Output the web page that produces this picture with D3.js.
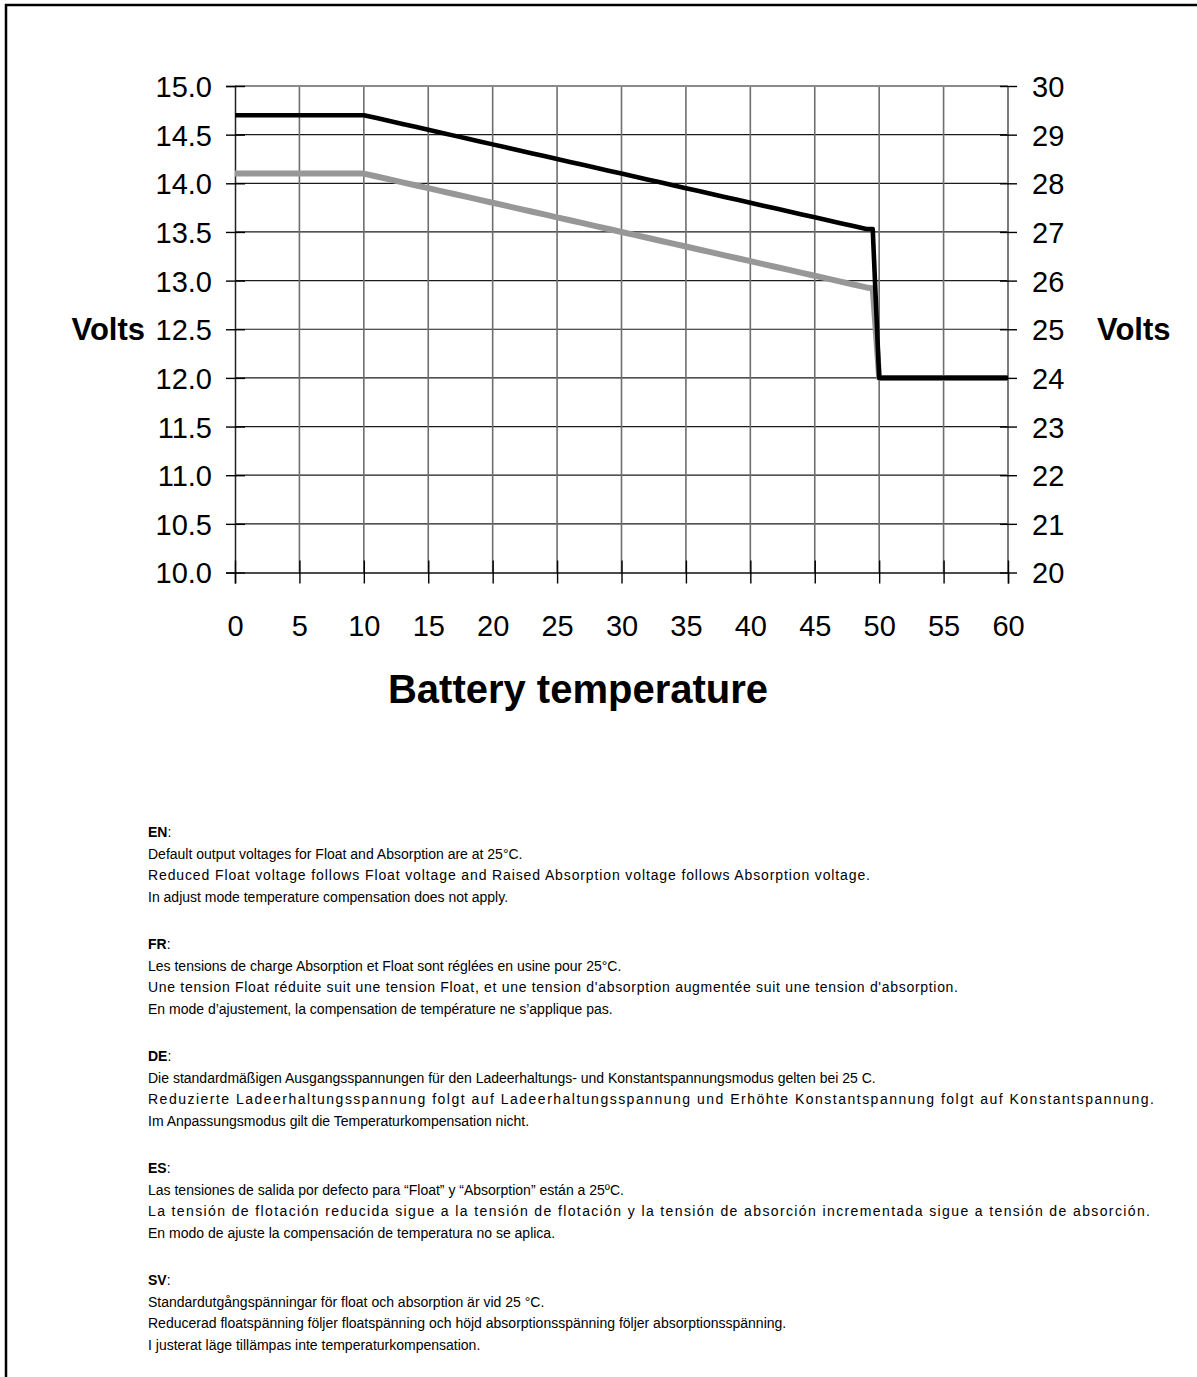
<!DOCTYPE html>
<html>
<head>
<meta charset="utf-8">
<script src="https://cdn.jsdelivr.net/npm/d3@7"></script>
<style>
  html, body { margin: 0; padding: 0; background: #fff; }
  svg { display: block; }
</style>
</head>
<body>
<svg id="chart" width="1197" height="1377"></svg>
<script>
// Battery temperature (°C) at which each voltage point is defined
const temperature = [0, 10, 11, 12, 13, 14, 15, 16, 17, 18, 19, 20, 21, 22, 23, 24, 25,
  26, 27, 28, 29, 30, 31, 32, 33, 34, 35, 36, 37, 38, 39, 40, 41, 42, 43, 44, 45,
  46, 47, 48, 49, 49.5, 50, 60];

// Absorption voltage (12 V system), black curve
const absorptionVolts = [14.70, 14.70, 14.67, 14.64, 14.61, 14.58, 14.55, 14.52, 14.49, 14.46,
  14.43, 14.40, 14.37, 14.34, 14.31, 14.28, 14.25, 14.22, 14.19, 14.16, 14.13, 14.10,
  14.07, 14.04, 14.01, 13.98, 13.95, 13.92, 13.89, 13.86, 13.83, 13.80, 13.77, 13.74,
  13.71, 13.68, 13.65, 13.62, 13.59, 13.56, 13.53, 13.53, 12.00, 12.00];

// Float voltage (12 V system), grey curve
const floatVolts = [14.10, 14.10, 14.07, 14.04, 14.01, 13.98, 13.95, 13.92, 13.89, 13.86,
  13.83, 13.80, 13.77, 13.74, 13.71, 13.68, 13.65, 13.62, 13.59, 13.56, 13.53, 13.50,
  13.47, 13.44, 13.41, 13.38, 13.35, 13.32, 13.29, 13.26, 13.23, 13.20, 13.17, 13.14,
  13.11, 13.08, 13.05, 13.02, 12.99, 12.96, 12.93, 12.92, 12.00, 12.00];

const xTicks = [0, 5, 10, 15, 20, 25, 30, 35, 40, 45, 50, 55, 60];
const leftTicks = [10.0, 10.5, 11.0, 11.5, 12.0, 12.5, 13.0, 13.5, 14.0, 14.5, 15.0];
const rightTicks = [20, 21, 22, 23, 24, 25, 26, 27, 28, 29, 30];

// Notes under the chart; "fit" is the set width of a line laid out wider than its natural size
const notes = [
  { lang: "EN", lines: [
    { s: "Default output voltages for Float and Absorption are at 25°C." },
    { s: "Reduced Float voltage follows Float voltage and Raised Absorption voltage follows Absorption voltage.", fit: 722 },
    { s: "In adjust mode temperature compensation does not apply." }] },
  { lang: "FR", lines: [
    { s: "Les tensions de charge Absorption et Float sont réglées en usine pour 25°C." },
    { s: "Une tension Float réduite suit une tension Float, et une tension d'absorption augmentée suit une tension d'absorption.", fit: 810 },
    { s: "En mode d’ajustement, la compensation de température ne s’applique pas." }] },
  { lang: "DE", lines: [
    { s: "Die standardmäßigen Ausgangsspannungen für den Ladeerhaltungs- und Konstantspannungsmodus gelten bei 25 C." },
    { s: "Reduzierte Ladeerhaltungsspannung folgt auf Ladeerhaltungsspannung und Erhöhte Konstantspannung folgt auf Konstantspannung.", fit: 1006 },
    { s: "Im Anpassungsmodus gilt die Temperaturkompensation nicht." }] },
  { lang: "ES", lines: [
    { s: "Las tensiones de salida por defecto para “Float” y “Absorption” están a 25ºC." },
    { s: "La tensión de flotación reducida sigue a la tensión de flotación y la tensión de absorción incrementada sigue a tensión de absorción.", fit: 1002 },
    { s: "En modo de ajuste la compensación de temperatura no se aplica." }] },
  { lang: "SV", lines: [
    { s: "Standardutgångspänningar för float och absorption är vid 25 °C." },
    { s: "Reducerad floatspänning följer floatspänning och höjd absorptionsspänning följer absorptionsspänning." },
    { s: "I justerat läge tillämpas inte temperaturkompensation." }] }
];

const svg = d3.select("#chart");
const FONT = "Liberation Sans, Arial, Helvetica, sans-serif";

// Page frame: top and left rule
svg.append("line").attr("x1", 5).attr("x2", 1197).attr("y1", 5).attr("y2", 5)
  .attr("stroke", "#000").attr("stroke-width", 2.5);
svg.append("line").attr("x1", 6).attr("x2", 6).attr("y1", 4).attr("y2", 1377)
  .attr("stroke", "#000").attr("stroke-width", 2.5);

const plot = { left: 235, right: 1008, top: 86, bottom: 572.5 };

const x = d3.scaleLinear().domain([0, 60]).range([plot.left, plot.right]);
const yL = d3.scaleLinear().domain([10, 15]).range([plot.bottom, plot.top]);
const yR = d3.scaleLinear().domain([20, 30]).range([plot.bottom, plot.top]);

// Horizontal grid (every 0.5 V)
svg.append("g").selectAll("line").data(leftTicks.slice(1, -1)).join("line")
  .attr("x1", plot.left).attr("x2", plot.right)
  .attr("y1", d => yL(d)).attr("y2", d => yL(d))
  .attr("stroke", "#1a1a1a").attr("stroke-width", 1.2);

// Vertical grid (every 5 °C)
svg.append("g").selectAll("line").data(xTicks.slice(1, -1)).join("line")
  .attr("x1", d => x(d)).attr("x2", d => x(d))
  .attr("y1", plot.top).attr("y2", plot.bottom)
  .attr("stroke", "#6e6e6e").attr("stroke-width", 1.6);

// Plot border
svg.append("line").attr("x1", plot.left).attr("x2", plot.right)
  .attr("y1", plot.top).attr("y2", plot.top).attr("stroke", "#8a8a8a").attr("stroke-width", 1.8);
svg.append("line").attr("x1", plot.right).attr("x2", plot.right)
  .attr("y1", plot.top).attr("y2", plot.bottom).attr("stroke", "#7a7a7a").attr("stroke-width", 2);

// Axes with ticks that cross the axis line
const tickFont = g => g.selectAll("text").attr("font-family", FONT).attr("font-size", 29).attr("fill", "#000");

const axL = svg.append("g").attr("transform", `translate(${plot.left},0)`)
  .call(d3.axisLeft(yL).tickValues(leftTicks).tickFormat(d3.format(".1f")).tickSize(9).tickPadding(14));
axL.select(".domain").attr("stroke", "#222").attr("stroke-width", 1.5);
axL.selectAll(".tick line").attr("x2", 10).attr("x1", -9).attr("stroke", "#000").attr("stroke-width", 1.4);
axL.call(tickFont).selectAll("text").attr("dy", "0.36em");

const axR = svg.append("g").attr("transform", `translate(${plot.right},0)`)
  .call(d3.axisRight(yR).tickValues(rightTicks).tickFormat(d3.format("d")).tickSize(9).tickPadding(15));
axR.select(".domain").remove();
axR.selectAll(".tick line").attr("x1", -8).attr("x2", 9).attr("stroke", "#000").attr("stroke-width", 1.4);
axR.call(tickFont).selectAll("text").attr("dy", "0.36em");

const axB = svg.append("g").attr("transform", `translate(0,${plot.bottom})`)
  .call(d3.axisBottom(x).tickValues(xTicks).tickFormat(d3.format("d")).tickSize(11).tickPadding(32));
axB.select(".domain").attr("stroke", "#111").attr("stroke-width", 1.5);
axB.selectAll(".tick line").attr("y1", -12).attr("y2", 11).attr("stroke", "#000").attr("stroke-width", 1.4);
axB.call(tickFont);

// Axis titles
svg.append("text").attr("x", 145).attr("y", yL(12.5)).attr("dy", "0.36em")
  .attr("text-anchor", "end").attr("font-family", FONT).attr("font-weight", "bold")
  .attr("font-size", 31).text("Volts");
svg.append("text").attr("x", 1097).attr("y", yL(12.5)).attr("dy", "0.36em")
  .attr("text-anchor", "start").attr("font-family", FONT).attr("font-weight", "bold")
  .attr("font-size", 31).text("Volts");
svg.append("text").attr("x", 578).attr("y", 703)
  .attr("text-anchor", "middle").attr("font-family", FONT).attr("font-weight", "bold")
  .attr("font-size", 40).text("Battery temperature");

// Curves
const rows = temperature.map((t, i) => ({ t, abs: absorptionVolts[i], flt: floatVolts[i] }));
const lineFloat = d3.line().x(d => x(d.t)).y(d => yL(d.flt));
const lineAbs = d3.line().x(d => x(d.t)).y(d => yL(d.abs));

svg.append("path").datum(rows).attr("d", lineFloat)
  .attr("fill", "none").attr("stroke", "#979797").attr("stroke-width", 6)
  .attr("stroke-linejoin", "round");
svg.append("path").datum(rows).attr("d", lineAbs)
  .attr("fill", "none").attr("stroke", "#000").attr("stroke-width", 4.6)
  .attr("stroke-linejoin", "round");

// Multilingual notes
const notesG = svg.append("g").attr("font-family", FONT).attr("font-size", 14).attr("fill", "#000");
notes.forEach((n, bi) => {
  const y0 = 837 + bi * 112;
  const head = notesG.append("text").attr("x", 148).attr("y", y0);
  head.append("tspan").attr("font-weight", "bold").text(n.lang);
  head.append("tspan").text(":");
  n.lines.forEach((ln, li) => {
    const t = notesG.append("text").attr("x", 148).attr("y", y0 + 21.5 * (li + 1)).text(ln.s);
    if (ln.fit) t.attr("textLength", ln.fit).attr("lengthAdjust", "spacing");
  });
});
</script>
</body>
</html>
